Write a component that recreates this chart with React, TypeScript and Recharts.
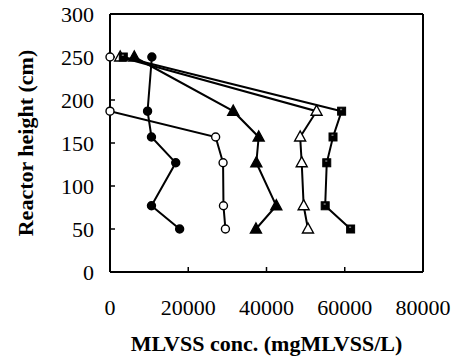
import React from "react";
import {
  ScatterChart,
  Scatter,
  XAxis,
  YAxis,
  ReferenceLine,
} from "recharts";

// sampling heights (cm), bottom to top
const heights = [50, 77, 127, 157, 187, 250];

// MLVSS at each height (mg/L), one array per run
const filledCircle = [17800, 10600, 16800, 10600, 9600, 10700];
const openCircle = [29500, 29000, 28900, 27000, 0, 0];
const filledTriangle = [37300, 42500, 37400, 38000, 31500, 6200];
const openTriangle = [50600, 49500, 49000, 48600, 52800, 2600];
const filledSquare = [61500, 55000, 55400, 57000, 59200, 3400];

const xTicks = [0, 20000, 40000, 60000, 80000];
const yTicks = [0, 50, 100, 150, 200, 250, 300];

const font = "Liberation Serif, Times New Roman, serif";

const toPoints = (vals: number[]) =>
  heights.map((h, i) => ({ x: vals[i], y: h }));

// marker shapes
const circle = (fill: string) => (p: any) => (
  <circle cx={p.cx} cy={p.cy} r={4} fill={fill} stroke="#000" strokeWidth={1.4} />
);

const triangle = (fill: string) => (p: any) => (
  <polygon
    points={`${p.cx},${p.cy - 6} ${p.cx - 5.5},${p.cy + 4} ${p.cx + 5.5},${p.cy + 4}`}
    fill={fill}
    stroke="#000"
    strokeWidth={1.4}
  />
);

const square = (p: any) => (
  <g>
    <rect x={p.cx - 4} y={p.cy - 4} width={8} height={8} fill="#000" stroke="#000" strokeWidth={1} />
    <rect x={p.cx - 1.5} y={p.cy - 2.5} width={2} height={1.5} fill="#777" />
  </g>
);

const lineStyle = { stroke: "#000", strokeWidth: 2 };

export default function App() {
  return (
    <div style={{ position: "absolute", left: 0, top: 0, fontFamily: font }}>
      <ScatterChart
        width={455}
        height={361}
        margin={{ top: 14, right: 32, bottom: 0, left: 0 }}
      >
        <XAxis
          type="number"
          dataKey="x"
          domain={[0, 80000]}
          ticks={xTicks}
          interval={0}
          height={89}
          axisLine={{ stroke: "#000", strokeWidth: 2 }}
          tickLine={{ stroke: "#000", strokeWidth: 1.5 }}
          tickSize={-5}
          tickMargin={32}
          tick={{ fill: "#000", fontSize: 22, fontFamily: font }}
          label={{
            value: "MLVSS conc. (mgMLVSS/L)",
            position: "insideBottom",
            offset: 10,
            style: { fill: "#000", fontSize: 22, fontWeight: "bold", fontFamily: font },
          }}
        />
        <YAxis
          type="number"
          dataKey="y"
          domain={[0, 300]}
          ticks={yTicks}
          interval={0}
          width={110}
          axisLine={{ stroke: "#000", strokeWidth: 2 }}
          tickLine={{ stroke: "#000", strokeWidth: 1.5 }}
          tickSize={-5}
          tickMargin={21}
          tick={{ fill: "#000", fontSize: 22, fontFamily: font }}
          label={{
            value: "Reactor height (cm)",
            angle: -90,
            position: "insideLeft",
            offset: 25,
            style: {
              textAnchor: "middle",
              fill: "#000",
              fontSize: 22,
              fontWeight: "bold",
              fontFamily: font,
            },
          }}
        />
        <ReferenceLine y={300} stroke="#000" strokeWidth={2} />
        <ReferenceLine x={80000} stroke="#000" strokeWidth={2} />

        <Scatter data={toPoints(filledCircle)} line={lineStyle} lineType="joint" shape={circle("#000")} isAnimationActive={false} />
        <Scatter data={toPoints(openCircle)} line={lineStyle} lineType="joint" shape={circle("#fff")} isAnimationActive={false} />
        <Scatter data={toPoints(filledTriangle)} line={lineStyle} lineType="joint" shape={triangle("#000")} isAnimationActive={false} />
        <Scatter data={toPoints(openTriangle)} line={lineStyle} lineType="joint" shape={triangle("#fff")} isAnimationActive={false} />
        <Scatter data={toPoints(filledSquare)} line={lineStyle} lineType="joint" shape={square} isAnimationActive={false} />
      </ScatterChart>
    </div>
  );
}
